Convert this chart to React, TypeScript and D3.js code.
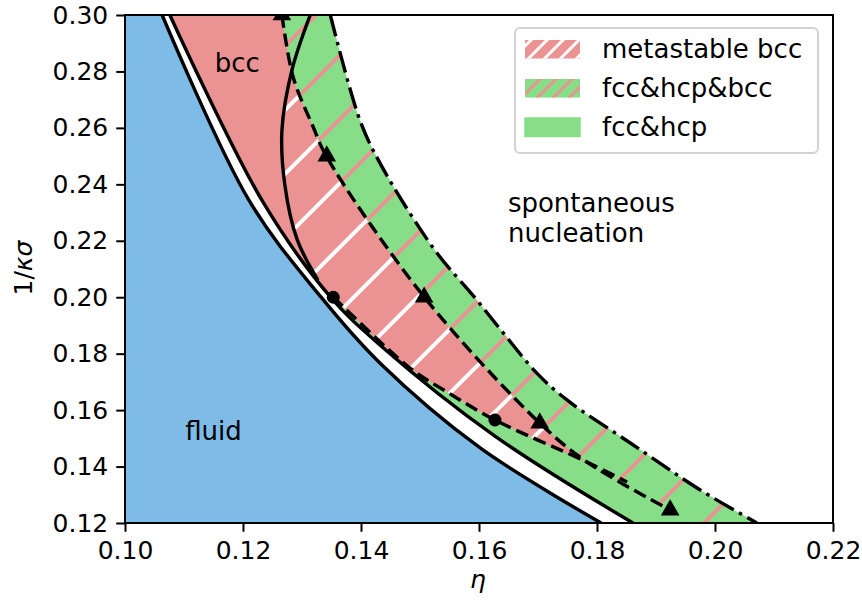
import React, { Component } from 'react';
import * as d3 from 'd3';

type Pt = [number, number];

// phase boundaries as [eta, 1/kappa sigma], listed from top to bottom
const fluidLine: Pt[] = [
  [0.1063, 0.30], [0.1210, 0.2344], [0.1332, 0.2001], [0.1432, 0.1767], [0.1602, 0.1466], [0.1807, 0.12],
];
const solidLine: Pt[] = [
  [0.1076, 0.30], [0.1232, 0.2344], [0.1348, 0.2001], [0.1432, 0.1831], [0.1627, 0.1508], [0.1861, 0.12],
];
const bccLine: Pt[] = [
  [0.1314, 0.30], [0.1283, 0.2805], [0.1266, 0.2592], [0.1271, 0.2397], [0.1292, 0.2203], [0.1327, 0.2061],
];
const triangleLine: Pt[] = [
  [0.1266, 0.30], [0.1285, 0.2780], [0.1319, 0.2603], [0.1342, 0.2497], [0.1507, 0.2001],
  [0.1703, 0.1554], [0.1783, 0.1416], [0.1924, 0.1246],
];
const triangleEnd: Pt = [0.1961, 0.12];
const circleLine: Pt[] = [
  [0.1353, 0.2001], [0.1483, 0.1749], [0.1546, 0.1664], [0.1627, 0.1565], [0.1783, 0.1416], [0.1851, 0.1345],
];
const dashDotLine: Pt[] = [
  [0.1348, 0.30], [0.1398, 0.2628], [0.1432, 0.2476], [0.1525, 0.2167], [0.1592, 0.2001], [0.1644, 0.1866],
  [0.1698, 0.1731], [0.1749, 0.1636], [0.1859, 0.1480], [0.1975, 0.1317], [0.2071, 0.12],
];
const triangleMarks: Pt[] = [[0.1266, 0.30], [0.1342, 0.25], [0.1507, 0.20], [0.1703, 0.1554], [0.1924, 0.1246]];
const circleMarks: Pt[] = [[0.1353, 0.20], [0.1627, 0.1565]];

const xTicks = [0.10, 0.12, 0.14, 0.16, 0.18, 0.20, 0.22];
const yTicks = [0.12, 0.14, 0.16, 0.18, 0.20, 0.22, 0.24, 0.26, 0.28, 0.30];
const legendLabels = ['metastable bcc', 'fcc&hcp&bcc', 'fcc&hcp'];
const regionLabels: { text: string[]; at: Pt }[] = [
  { text: ['bcc'], at: [0.1152, 0.2798] },
  { text: ['fluid'], at: [0.1102, 0.1494] },
  { text: ['spontaneous', 'nucleation'], at: [0.1649, 0.2302] },
];

const BLUE = '#7fbbe7';
const PINK = '#eb9393';
const GREEN = '#88dd88';
const FONT = '"DejaVu Sans", sans-serif';

class App extends Component {
  el: HTMLDivElement | null = null;

  componentDidMount() {
    if (!this.el) return;
    d3.select(this.el).selectAll('*').remove();
    this.drawChart(this.createSVG());
  }

  createSVG() {
    return d3.select(this.el)
      .append('svg')
      .attr('width', 862)
      .attr('height', 607)
      .attr('style', 'position:absolute;left:0;top:0;background:#fff');
  }

  drawChart(svg: any) {
    const x = d3.scaleLinear().domain([0.10, 0.22]).range([125, 833]);
    const y = d3.scaleLinear().domain([0.12, 0.30]).range([523, 15]);
    const line = d3.line<Pt>().x(d => x(d[0])).y(d => y(d[1])).curve(d3.curveCatmullRom.alpha(0.5));
    const band = (left: Pt[], right: Pt[]) =>
      line(left) + (line(right.slice().reverse()) as string).replace(/^M/, 'L') + 'Z';

    const defs = svg.append('defs');
    defs.append('clipPath').attr('id', 'plot')
      .append('rect').attr('x', 125).attr('y', 15).attr('width', 708).attr('height', 508);
    // diagonal hatches, lines x + y = 11 (mod size)
    const hatch = (id: string, color: string, size: number, w: number) => {
      const p = defs.append('pattern').attr('id', id)
        .attr('patternUnits', 'userSpaceOnUse').attr('width', size).attr('height', size);
      const c = size + 11;
      p.append('path').attr('d', `M-4,15L15,-4M${c - size - 4},${size + 4}L${size + 4},${c - size - 4}`)
        .attr('stroke', color).attr('stroke-width', w).attr('fill', 'none');
    };
    hatch('whiteHatch', '#fff', 64, 4);
    hatch('pinkHatch', PINK, 64, 4);
    hatch('whiteHatchSmall', '#fff', 16, 3);
    hatch('pinkHatchSmall', PINK, 16, 3);

    const g = svg.append('g').attr('clip-path', 'url(#plot)');
    const cornerTop = bccLine[bccLine.length - 1];
    const meet = triangleLine.find(d => d[1] === 0.1416) as Pt;

    g.append('path').attr('d', band([[0.098, 0.31], [0.098, 0.11]], fluidLine)).attr('fill', BLUE);
    g.append('path').attr('d', band(solidLine, dashDotLine)).attr('fill', GREEN);
    g.append('path')
      .attr('d', band([...solidLine.filter(d => d[1] > cornerTop[1]), cornerTop], bccLine))
      .attr('fill', PINK);
    const meta = band([...bccLine, ...circleLine.filter(d => d[1] >= meet[1])],
      triangleLine.filter(d => d[1] >= meet[1]));
    g.append('path').attr('d', meta).attr('fill', PINK);
    g.append('path').attr('d', meta).attr('fill', 'url(#whiteHatch)');
    const mixed = band([...triangleLine, triangleEnd], dashDotLine);
    g.append('path').attr('d', mixed).attr('fill', GREEN);
    g.append('path').attr('d', mixed).attr('fill', 'url(#pinkHatch)');

    const stroke = (pts: Pt[], dash: string | null) =>
      g.append('path').attr('d', line(pts)).attr('fill', 'none').attr('stroke', '#000')
        .attr('stroke-width', 3.4).attr('stroke-dasharray', dash);
    stroke(fluidLine, null);
    stroke(solidLine, null);
    stroke(bccLine, null);
    stroke(circleLine, '13,6');
    stroke(triangleLine, '13,6');
    stroke(dashDotLine, '22,6,3.5,6');

    g.selectAll('.tri').data(triangleMarks).join('path')
      .attr('transform', (d: Pt) => `translate(${x(d[0])},${y(d[1])})`)
      .attr('d', d3.symbol(d3.symbolTriangle, 150)).attr('fill', '#000');
    g.selectAll('.dot').data(circleMarks).join('circle')
      .attr('cx', (d: Pt) => x(d[0])).attr('cy', (d: Pt) => y(d[1])).attr('r', 6.5).attr('fill', '#000');

    regionLabels.forEach(l => {
      const t = svg.append('text').attr('font-family', FONT).attr('font-size', 26)
        .attr('x', x(l.at[0])).attr('y', y(l.at[1]));
      l.text.forEach((s, i) => t.append('tspan').attr('x', x(l.at[0])).attr('dy', i ? 30 : 0).text(s));
    });

    // axes
    svg.append('rect').attr('x', 125).attr('y', 15).attr('width', 708).attr('height', 508)
      .attr('fill', 'none').attr('stroke', '#000').attr('stroke-width', 2);
    const xa = svg.append('g').attr('transform', 'translate(0,523)')
      .call(d3.axisBottom(x).tickValues(xTicks).tickSize(8.75).tickPadding(8).tickFormat(d3.format('.2f')));
    const ya = svg.append('g').attr('transform', 'translate(125,0)')
      .call(d3.axisLeft(y).tickValues(yTicks).tickSize(8.75).tickPadding(8).tickFormat(d3.format('.2f')));
    [xa, ya].forEach(a => {
      a.select('.domain').remove();
      a.selectAll('line').attr('stroke-width', 2);
      a.selectAll('text').attr('font-family', FONT).attr('font-size', 25).attr('fill', '#000');
    });
    xa.selectAll('text').attr('dy', '0.76em');

    svg.append('text').attr('x', 478).attr('y', 588).attr('text-anchor', 'middle')
      .attr('font-family', FONT).attr('font-size', 25).attr('font-style', 'italic').text('η');
    const yl = svg.append('text').attr('transform', 'translate(32,268) rotate(-90)')
      .attr('text-anchor', 'middle').attr('font-family', FONT).attr('font-size', 25);
    yl.append('tspan').text('1/');
    yl.append('tspan').attr('font-style', 'italic').text('κσ');

    // legend
    const lg = svg.append('g');
    lg.append('rect').attr('x', 515).attr('y', 28).attr('width', 303).attr('height', 125).attr('rx', 5)
      .attr('fill', '#fff').attr('fill-opacity', 0.8).attr('stroke', '#d3d3d3').attr('stroke-width', 2);
    const fills = [[PINK, 'url(#whiteHatchSmall)'], [GREEN, 'url(#pinkHatchSmall)'], [GREEN, null]];
    legendLabels.forEach((s, i) => {
      const base = 58 + i * 39;
      fills[i].forEach(f => {
        if (f) lg.append('rect').attr('x', 525).attr('y', base - 18).attr('width', 55).attr('height', 18.5)
          .attr('fill', f).attr('stroke', i === 2 ? GREEN : 'none').attr('stroke-width', 1.5);
      });
      lg.append('text').attr('x', 602).attr('y', base).attr('font-family', FONT).attr('font-size', 26).text(s);
    });
  }

  render() {
    return <div ref={el => { this.el = el; }} />;
  }
}

export default App;
